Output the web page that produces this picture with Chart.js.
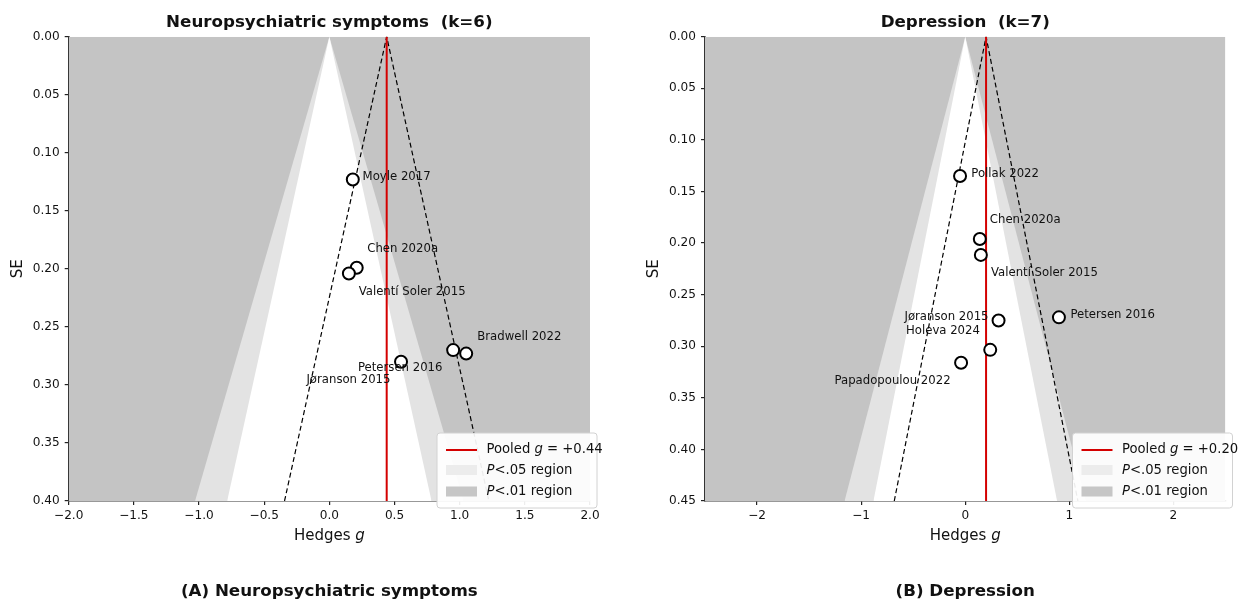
<!DOCTYPE html>
<html>
<head>
<meta charset="utf-8">
<script src="https://cdn.jsdelivr.net/npm/chart.js@4.4.1/dist/chart.umd.min.js"></script>
<style>
  body { margin: 0; background: #fff; }
  #wrap { position: relative; width: 1238px; height: 601px; overflow: hidden; }
  canvas { position: absolute; top: 0; }
</style>
</head>
<body>
<div id="wrap">
  <canvas id="funnelA" width="619" height="601" style="left:0"></canvas>
  <canvas id="funnelB" width="619" height="601" style="left:619px"></canvas>
</div>
<script>
// (A) Neuropsychiatric symptoms
const studiesA = ["Moyle 2017", "Chen 2020a", "Valentí Soler 2015", "Jøranson 2015", "Petersen 2016", "Bradwell 2022"];
const effectA = [0.18, 0.21, 0.15, 0.55, 0.95, 1.05];
const seA = [0.123, 0.199, 0.204, 0.280, 0.270, 0.273];
const labelGA = [0.255, 0.291, 0.225, -0.176, 0.219, 1.135];
const labelSeA = [0.121, 0.183, 0.220, 0.296, 0.285, 0.259];
const pooledA = 0.44;
const xTicksA = [-2, -1.5, -1, -0.5, 0, 0.5, 1, 1.5, 2];
const yTicksA = [0, 0.05, 0.10, 0.15, 0.20, 0.25, 0.30, 0.35, 0.40];

// (B) Depression
const studiesB = ["Pollak 2022", "Chen 2020a", "Valentí Soler 2015", "Jøranson 2015", "Petersen 2016", "Holeva 2024", "Papadopoulou 2022"];
const effectB = [-0.05, 0.14, 0.15, 0.32, 0.90, 0.24, -0.04];
const seB = [0.135, 0.196, 0.2115, 0.275, 0.272, 0.3035, 0.316];
const labelGB = [0.058, 0.236, 0.247, -0.584, 1.010, -0.569, -1.256];
const labelSeB = [0.1326, 0.178, 0.229, 0.2718, 0.270, 0.2848, 0.3337];
const pooledB = 0.20;
const xTicksB = [-2, -1, 0, 1, 2];
const yTicksB = [0, 0.05, 0.10, 0.15, 0.20, 0.25, 0.30, 0.35, 0.40, 0.45];

const z05 = 1.96, z01 = 2.576;
const FONT = "'DejaVu Sans', sans-serif";
const minus = s => s.replace("-", "\u2212");

function richText(ctx, parts, x, y, size, align) {
  let w = 0;
  parts.forEach(p => {
    ctx.font = (p[1] ? "italic " : "") + size + "px " + FONT;
    w += ctx.measureText(p[0]).width;
  });
  let cx = align === "center" ? x - w / 2 : x;
  ctx.textAlign = "left";
  parts.forEach(p => {
    ctx.font = (p[1] ? "italic " : "") + size + "px " + FONT;
    ctx.fillText(p[0], cx, y);
    cx += ctx.measureText(p[0]).width;
  });
}

function makeFunnel(id, o) {
  const seMax = o.yTicks[o.yTicks.length - 1];
  const textPlugin = {
    id: "funnelText",
    afterDraw(chart) {
      const ctx = chart.ctx, a = chart.chartArea;
      const xs = chart.scales.x, ys = chart.scales.y;
      const mid = (a.left + a.right) / 2;
      ctx.save();
      ctx.fillStyle = "#111";
      ctx.textBaseline = "middle";
      // study labels
      ctx.font = "11.7px " + FONT;
      ctx.textAlign = "left";
      o.studies.forEach((s, i) => {
        ctx.fillText(s, xs.getPixelForValue(o.labelG[i]), ys.getPixelForValue(o.labelSe[i]));
      });
      // title + caption
      ctx.font = "bold 16.7px " + FONT;
      ctx.textAlign = "center";
      ctx.fillText(o.title, mid, 23);
      ctx.fillText(o.caption, mid, 592);
      // axis titles
      richText(ctx, [["Hedges ", false], ["g", true]], mid, 536, 15, "center");
      ctx.save();
      ctx.translate(a.left - 51, (a.top + a.bottom) / 2);
      ctx.rotate(-Math.PI / 2);
      ctx.font = "15px " + FONT;
      ctx.textAlign = "center";
      ctx.fillText("SE", 0, 0);
      ctx.restore();
      // legend
      const lx = a.right - 153, ly = 433, lw = 160, lh = 75;
      ctx.beginPath();
      ctx.roundRect(lx, ly, lw, lh, 3);
      ctx.fillStyle = "rgba(255,255,255,0.92)";
      ctx.fill();
      ctx.strokeStyle = "#d2d2d2";
      ctx.lineWidth = 1;
      ctx.stroke();
      ctx.strokeStyle = "#d40000";
      ctx.lineWidth = 2;
      ctx.beginPath();
      ctx.moveTo(lx + 9, ly + 17);
      ctx.lineTo(lx + 40, ly + 17);
      ctx.stroke();
      ctx.fillStyle = "#ececec";
      ctx.fillRect(lx + 9, ly + 32, 31, 10);
      ctx.fillStyle = "#c6c6c6";
      ctx.fillRect(lx + 9, ly + 53.5, 31, 10);
      ctx.fillStyle = "#111";
      ctx.textBaseline = "middle";
      richText(ctx, [["Pooled ", false], ["g", true], [" = +" + o.pooled.toFixed(2), false]], lx + 49.5, ly + 17, 13.2, "left");
      richText(ctx, [["P", true], ["<.05 region", false]], lx + 49.5, ly + 37.5, 13.2, "left");
      richText(ctx, [["P", true], ["<.01 region", false]], lx + 49.5, ly + 58.5, 13.2, "left");
      ctx.restore();
    }
  };

  const region = (z, color, order) => ({
    data: [{ x: -z * seMax, y: seMax }, { x: 0, y: 0 }, { x: z * seMax, y: seMax }],
    borderColor: "transparent", borderWidth: 0, pointRadius: 0,
    backgroundColor: color, fill: { value: seMax }, order
  });

  return new Chart(document.getElementById(id), {
    type: "line",
    data: {
      datasets: [
        {
          data: o.studies.map((s, i) => ({ x: o.effect[i], y: o.se[i] })),
          showLine: false, pointRadius: 6, pointHoverRadius: 6,
          pointBackgroundColor: "#fff", pointBorderColor: "#000", pointBorderWidth: 2,
          order: 0
        },
        {
          data: [{ x: o.pooled, y: 0 }, { x: o.pooled, y: seMax }],
          borderColor: "#d40000", borderWidth: 2, pointRadius: 0, order: 1
        },
        {
          data: [{ x: o.pooled - z05 * seMax, y: seMax }, { x: o.pooled, y: 0 }, { x: o.pooled + z05 * seMax, y: seMax }],
          borderColor: "#000", borderWidth: 1.2, borderDash: [5, 3], pointRadius: 0, order: 2
        },
        region(z05, "#ffffff", 3),
        region(z01, "#e3e3e3", 4),
        {
          data: [{ x: o.xMin, y: 0 }, { x: o.xMax, y: 0 }],
          borderColor: "transparent", borderWidth: 0, pointRadius: 0,
          backgroundColor: "#c4c4c4", fill: { value: seMax }, order: 5
        }
      ]
    },
    options: {
      responsive: false,
      animation: false,
      devicePixelRatio: 1,
      layout: { padding: { top: 36.7, right: o.padRight, bottom: 0, left: 0 } },
      plugins: { legend: { display: false }, tooltip: { enabled: false } },
      scales: {
        x: {
          type: "linear", min: o.xMin, max: o.xMax,
          afterBuildTicks: s => { s.ticks = o.xTicks.map(v => ({ value: v })); },
          afterFit: s => { s.height = 100; },
          ticks: {
            autoSkip: false, maxRotation: 0, padding: 4, color: "#111",
            font: { family: FONT, size: 12.1 },
            callback: v => minus(o.xDigits ? v.toFixed(o.xDigits) : String(v))
          },
          grid: { display: true, drawOnChartArea: false, drawTicks: true, tickLength: 4, color: "#222", lineWidth: 1.2 },
          border: { display: true, color: "#333", width: 1.6 }
        },
        y: {
          type: "linear", reverse: true, min: 0, max: seMax,
          afterBuildTicks: s => { s.ticks = o.yTicks.map(v => ({ value: v })); },
          afterFit: s => { s.width = o.yWidth; },
          ticks: {
            autoSkip: false, padding: 5, color: "#111",
            font: { family: FONT, size: 12.1 },
            callback: v => v.toFixed(2)
          },
          grid: { display: true, drawOnChartArea: false, drawTicks: true, tickLength: 4, color: "#222", lineWidth: 1.2 },
          border: { display: true, color: "#333", width: 1.6 }
        }
      }
    },
    plugins: [textPlugin]
  });
}

makeFunnel("funnelA", {
  studies: studiesA, effect: effectA, se: seA, labelG: labelGA, labelSe: labelSeA,
  pooled: pooledA, xTicks: xTicksA, yTicks: yTicksA, xMin: -2, xMax: 2, xDigits: 1,
  yWidth: 68.7, padRight: 29,
  title: "Neuropsychiatric symptoms  (k=6)", caption: "(A) Neuropsychiatric symptoms"
});

makeFunnel("funnelB", {
  studies: studiesB, effect: effectB, se: seB, labelG: labelGB, labelSe: labelSeB,
  pooled: pooledB, xTicks: xTicksB, yTicks: yTicksB, xMin: -2.5, xMax: 2.5, xDigits: 0,
  yWidth: 86, padRight: 12.5,
  title: "Depression  (k=7)", caption: "(B) Depression"
});
</script>
</body>
</html>
